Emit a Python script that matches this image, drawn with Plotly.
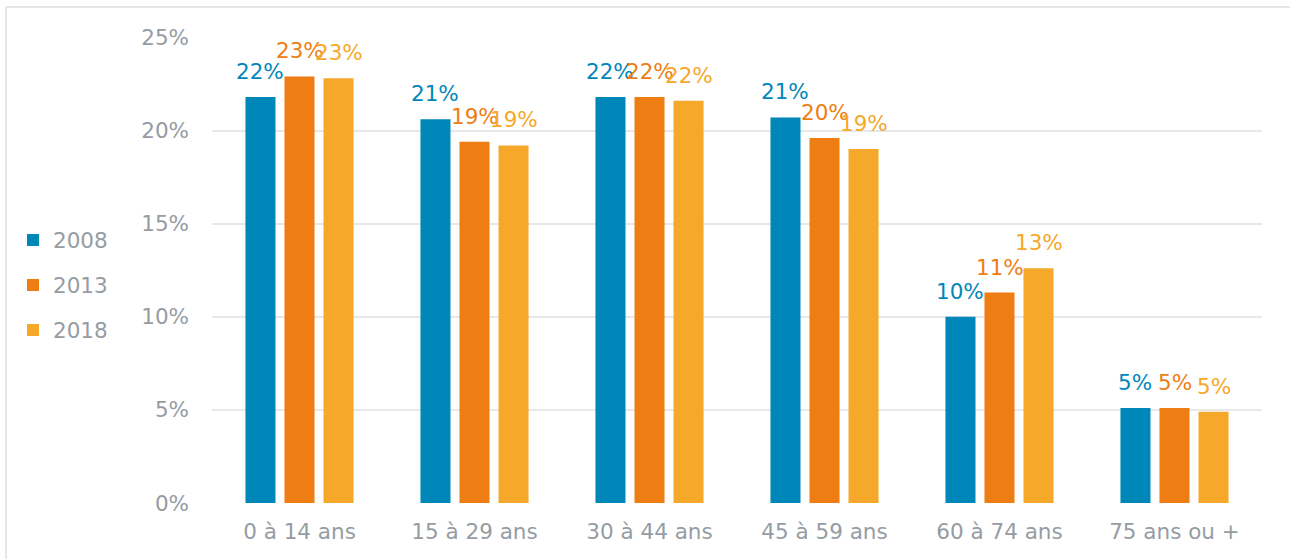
import plotly.graph_objects as go

# Population share by age group (fractions)
age_groups = ["0 à 14 ans", "15 à 29 ans", "30 à 44 ans", "45 à 59 ans", "60 à 74 ans", "75 ans ou +"]
years = ["2008", "2013", "2018"]
share_2008 = [0.218, 0.206, 0.218, 0.207, 0.100, 0.051]
share_2013 = [0.229, 0.194, 0.218, 0.196, 0.113, 0.051]
share_2018 = [0.228, 0.192, 0.216, 0.190, 0.126, 0.049]
y_ticks = [0, 0.05, 0.10, 0.15, 0.20, 0.25]

colors = ["#0087ba", "#ee7d14", "#f6a82a"]
series = [share_2008, share_2013, share_2018]

FONT = "DejaVu Sans"
GREY = "#959ca3"
FS = 21.5

W, H = 1290, 559
ML, MR, MT, MB = 212, 28, 37, 56
PW, PH = W - ML - MR, H - MT - MB

fig = go.Figure()
for i, (yr, vals, col) in enumerate(zip(years, series, colors)):
    fig.add_trace(go.Bar(
        x=age_groups, y=vals, name=yr, marker_color=col,
        marker_line_width=0, legendgroup=yr,
    ))

# value labels above each bar, offset within the group
slot = PW / len(age_groups) * (1 - 0.331) / 3
for i, (vals, col) in enumerate(zip(series, colors)):
    for cat, v in zip(age_groups, vals):
        fig.add_annotation(
            x=cat, y=v, text=f"{round(v * 100):.0f}%", showarrow=False,
            xshift=(i - 1) * slot, yshift=11, yanchor="bottom",
            font=dict(family=FONT, size=FS, color=col),
        )

# light frame along the top and left edges of the chart
frame = dict(color="#e6e6e6", width=2)
x_left = (6 - ML) / PW
y_top = (H - MB - 7) / PH
fig.add_shape(type="line", xref="paper", yref="paper",
              x0=x_left, x1=(W + 50 - ML) / PW, y0=y_top, y1=y_top, line=frame, layer="below")
fig.add_shape(type="line", xref="paper", yref="paper",
              x0=x_left, x1=x_left, y0=y_top, y1=-0.3, line=frame, layer="below")

fig.update_layout(
    width=W, height=H,
    margin=dict(l=ML, r=MR, t=MT, b=MB),
    paper_bgcolor="white", plot_bgcolor="white",
    barmode="group", bargap=0.331, bargroupgap=0.23,
    font=dict(family=FONT, size=FS, color=GREY),
    showlegend=True,
    legend=dict(
        x=(13 - ML) / PW, xanchor="left", y=(H - MB - 285) / PH, yanchor="middle",
        traceorder="grouped", tracegroupgap=14,
        font=dict(family=FONT, size=FS, color=GREY),
        bgcolor="rgba(0,0,0,0)",
    ),
    xaxis=dict(
        showgrid=False, showline=False, ticks="", ticklabelstandoff=13,
        tickfont=dict(family=FONT, size=FS, color=GREY),
    ),
    yaxis=dict(
        range=[0, 0.2502], tickvals=y_ticks, tickformat=".0%",
        showgrid=True, gridcolor="#e8e8e8", gridwidth=2,
        zeroline=False, showline=False, ticks="", ticklabelstandoff=22,
        tickfont=dict(family=FONT, size=FS, color=GREY),
    ),
)

fig.write_html("out.html")
